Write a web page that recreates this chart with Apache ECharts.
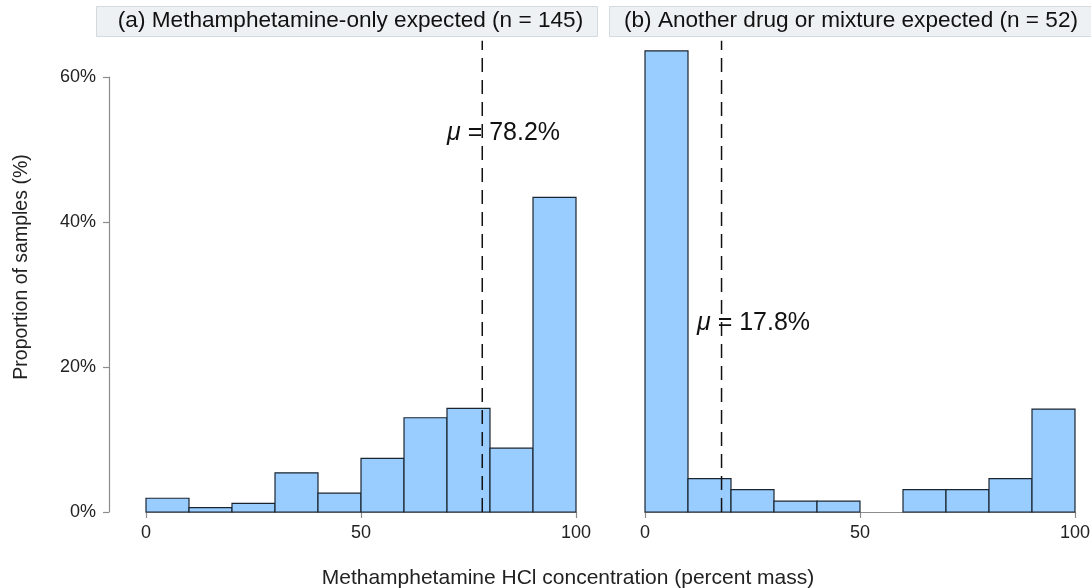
<!DOCTYPE html>
<html>
<head>
<meta charset="utf-8">
<script src="https://cdn.jsdelivr.net/npm/echarts@6/dist/echarts.min.js"></script>
<style>html,body{margin:0;padding:0;background:#fff;}#c{width:1091px;height:588px;}</style>
</head>
<body>
<div id="c"></div>
<script>
// ---- data ----
var binStarts = [0, 10, 20, 30, 40, 50, 60, 70, 80, 90];
var binWidth = 10;
var valuesA = [1.9, 0.6, 1.2, 5.4, 2.6, 7.4, 13.0, 14.3, 8.8, 43.4];
var valuesB = [63.6, 4.6, 3.1, 1.5, 1.5, 0, 3.1, 3.1, 4.6, 14.2];
var meanA = 78.2;
var meanB = 17.8;
var titleA = '(a) Methamphetamine-only expected (n = 145)';
var titleB = '(b) Another drug or mixture expected (n = 52)';
var xTicks = [0, 50, 100];
var yTicks = [0, 20, 40, 60];
var yTitle = 'Proportion of samples (%)';
var xTitle = 'Methamphetamine HCl concentration (percent mass)';

var FONT = '"Liberation Sans", Arial, Helvetica, sans-serif';

function histData(vals) {
  return binStarts.map(function (s, i) { return [s, s + binWidth, vals[i]]; });
}

function renderBar(params, api) {
  var h = api.value(2);
  if (!h) return null;
  var p0 = api.coord([api.value(0), 0]);
  var p1 = api.coord([api.value(1), h]);
  return {
    type: 'rect',
    shape: { x: p0[0], y: p1[1], width: p1[0] - p0[0], height: p0[1] - p1[1] },
    style: { fill: '#99ccff', stroke: '#1b2530', lineWidth: 1.2 }
  };
}

function meanSeries(idx, mean, topVal, labelX, labelY) {
  return {
    type: 'custom',
    xAxisIndex: idx, yAxisIndex: idx,
    clip: false,
    silent: true,
    z: 5,
    data: [[mean, topVal, labelX, labelY]],
    renderItem: function (params, api) {
      var b = api.coord([api.value(0), 0]);
      var t = api.coord([api.value(0), api.value(1)]);
      var lp = api.coord([api.value(2), api.value(3)]);
      return {
        type: 'group',
        children: [
          { type: 'line', shape: { x1: b[0], y1: b[1], x2: t[0], y2: t[1] },
            style: { stroke: '#111', lineWidth: 1.5, lineDash: [14, 8] } },
          { type: 'text', x: lp[0], y: lp[1],
            style: { text: '{i|μ} = ' + api.value(0).toFixed(1) + '%', fill: '#111',
              font: '25px ' + FONT, align: 'left', verticalAlign: 'middle',
              rich: { i: { fontStyle: 'italic', fontSize: 25, fontFamily: FONT, fill: '#111' } } } }
        ]
      };
    }
  };
}

var axisColor = '#8c8c8c';

function xAxisDef(idx) {
  return {
    type: 'value', gridIndex: idx, min: 0, max: 100, interval: 50,
    axisLine: { show: true, onZero: false, lineStyle: { color: axisColor, width: 1.2 } },
    axisTick: { show: true, length: 6, customValues: xTicks, lineStyle: { color: axisColor, width: 1.2 } },
    axisLabel: { fontSize: 18, color: '#222', fontFamily: FONT, margin: 12, customValues: xTicks },
    splitLine: { show: false }
  };
}

var option = {
  backgroundColor: '#fff',
  animation: false,
  grid: [
    { left: 146, width: 430, top: 77, height: 435, outerBoundsMode: 'none', containLabel: false },
    { left: 645, width: 430, top: 40.75, height: 471.25, outerBoundsMode: 'none', containLabel: false }
  ],
  xAxis: [xAxisDef(0), xAxisDef(1)],
  yAxis: [
    { type: 'value', gridIndex: 0, min: 0, max: 60, interval: 20, offset: 37,
      axisLine: { show: true, onZero: false, lineStyle: { color: axisColor, width: 1.2 } },
      axisTick: { show: true, inside: false, length: 6, customValues: yTicks, lineStyle: { color: axisColor, width: 1.2 } },
      axisLabel: { fontSize: 18, color: '#222', fontFamily: FONT, margin: 13, formatter: '{value}%', customValues: yTicks },
      splitLine: { show: false } },
    { type: 'value', gridIndex: 1, min: 0, max: 65, show: false, splitLine: { show: false } }
  ],
  series: [
    { type: 'custom', xAxisIndex: 0, yAxisIndex: 0, renderItem: renderBar, data: histData(valuesA), encode: { x: [0, 1], y: 2 }, silent: true },
    { type: 'custom', xAxisIndex: 1, yAxisIndex: 1, renderItem: renderBar, data: histData(valuesB), encode: { x: [0, 1], y: 2 }, silent: true },
    meanSeries(0, meanA, 65, 70, 52.3),
    meanSeries(1, meanB, 65, 12.1, 26.1)
  ],
  graphic: [
    { type: 'rect', left: 96, top: 6, shape: { width: 501, height: 30 }, style: { fill: '#eef1f3', stroke: '#d3dbe0', lineWidth: 1 } },
    { type: 'text', x: 350.5, y: 21, style: { text: titleA, font: '22.6px ' + FONT, fill: '#111', align: 'center', verticalAlign: 'middle' } },
    { type: 'rect', left: 609, top: 6, shape: { width: 490, height: 30 }, style: { fill: '#eef1f3', stroke: '#d3dbe0', lineWidth: 1 } },
    { type: 'text', x: 851, y: 21, style: { text: titleB, font: '22.6px ' + FONT, fill: '#111', align: 'center', verticalAlign: 'middle' } },
    { type: 'text', x: 568, y: 578, style: { text: xTitle, font: '21px ' + FONT, fill: '#222', align: 'center', verticalAlign: 'middle' } },
    { type: 'text', x: 22, y: 267, rotation: Math.PI / 2, style: { text: yTitle, font: '19.5px ' + FONT, fill: '#222', align: 'center', verticalAlign: 'middle' } }
  ]
};

var chart = echarts.init(document.getElementById('c'), null, { renderer: 'canvas' });
chart.setOption(option);
</script>
</body>
</html>
